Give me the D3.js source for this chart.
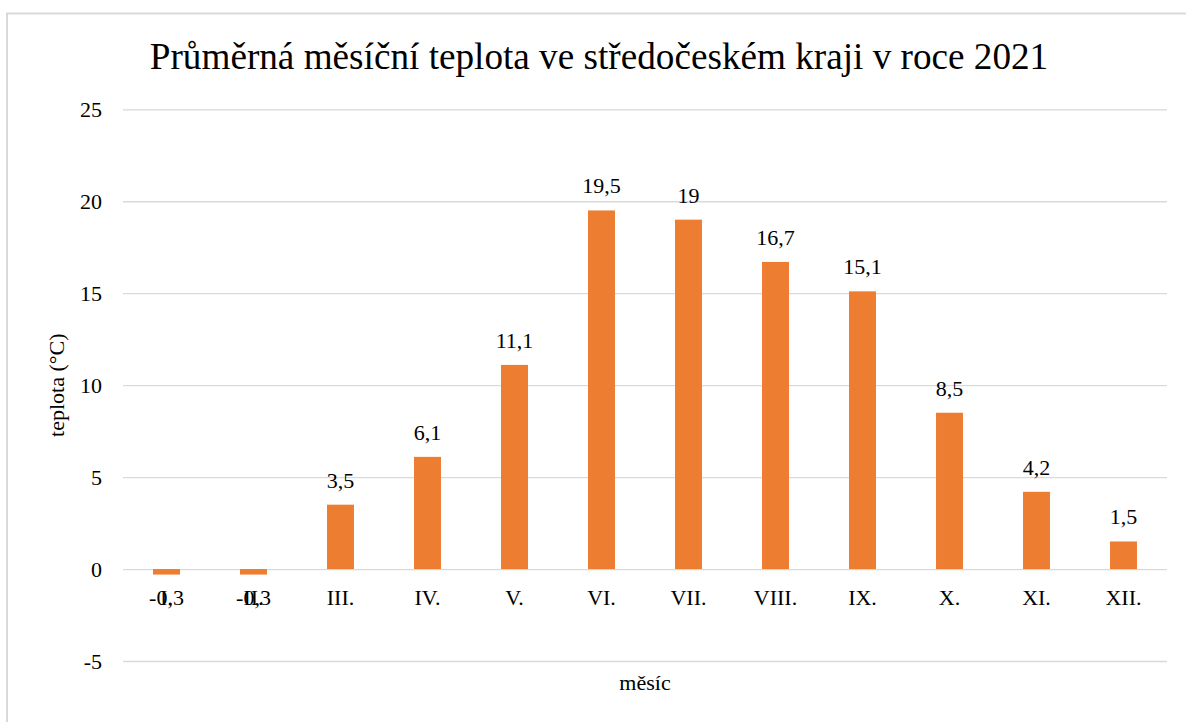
<!DOCTYPE html>
<html>
<head>
<meta charset="utf-8">
<script src="https://cdn.jsdelivr.net/npm/d3@7"></script>
<style>
  body { margin: 0; background: #fff; }
  svg, svg text { font-family: "Liberation Serif", "Times New Roman", serif; }
</style>
</head>
<body>
<div id="wrapper"></div>
<script>
// data
var months = ["I.", "II.", "III.", "IV.", "V.", "VI.", "VII.", "VIII.", "IX.", "X.", "XI.", "XII."];
var temps = [-0.3, -0.3, 3.5, 6.1, 11.1, 19.5, 19, 16.7, 15.1, 8.5, 4.2, 1.5];
var yTicks = [-5, 0, 5, 10, 15, 20, 25];
var title = "Průměrná měsíční teplota ve středočeském kraji v roce 2021";
var yTitle = "teplota (°C)";
var xTitle = "měsíc";

var W = 1186, H = 722;
var margin = {top: 109.3, right: 19, bottom: 61, left: 123};
var width = W - margin.left - margin.right,
    height = H - margin.top - margin.bottom;

var svg = d3.select("#wrapper").append("svg")
  .attr("width", W)
  .attr("height", H);

// chart area border (clipped by the page on the right and bottom)
svg.append("rect")
  .attr("x", 7).attr("y", 13.5)
  .attr("width", W + 20).attr("height", H + 20)
  .attr("fill", "none")
  .attr("stroke", "#d9d9d9")
  .attr("stroke-width", 2);

var g = svg.append("g")
  .attr("transform", "translate(" + margin.left + "," + margin.top + ")");

var x = d3.scaleBand()
  .domain(months)
  .range([0, width])
  .paddingInner(0.69)
  .paddingOuter(0.345);

var y = d3.scaleLinear()
  .domain([-5, 25])
  .range([height, 0]);

var fmt = function(d) { return String(d).replace(".", ","); };

// gridlines + tick labels
var yAxis = d3.axisLeft(y)
  .tickValues(yTicks)
  .tickSize(-width)
  .tickPadding(21)
  .tickFormat(fmt);

g.append("g")
  .call(yAxis)
  .attr("font-family", null)
  .attr("font-size", 22)
  .call(function(a) { a.select(".domain").remove(); })
  .call(function(a) {
    a.selectAll(".tick line").attr("stroke", "#d9d9d9").attr("stroke-width", 1.3);
    a.selectAll(".tick text").attr("fill", "#000");
  });

// bars
g.append("g").selectAll("rect")
  .data(temps)
  .enter().append("rect")
    .attr("x", function(d, i) { return x(months[i]); })
    .attr("y", function(d) { return y(Math.max(0, d)); })
    .attr("width", x.bandwidth())
    .attr("height", function(d) { return Math.abs(y(d) - y(0)); })
    .attr("fill", "#ed7d31");

// category labels (no axis line, Excel style)
g.append("g").selectAll("text")
  .data(months)
  .enter().append("text")
    .attr("x", function(d) { return x(d) + x.bandwidth() / 2; })
    .attr("y", y(0) + 36)
    .attr("text-anchor", "middle")
    .attr("font-size", 22)
    .text(function(d) { return d; });

// value labels
g.append("g").selectAll("text")
  .data(temps)
  .enter().append("text")
    .attr("x", function(d, i) { return x(months[i]) + x.bandwidth() / 2; })
    .attr("y", function(d) { return d >= 0 ? y(d) - 17 : y(d) + 30; })
    .attr("text-anchor", "middle")
    .attr("font-size", 22)
    .text(fmt);

// titles
svg.append("text")
  .attr("x", 599)
  .attr("y", 69)
  .attr("text-anchor", "middle")
  .attr("font-size", 37.2)
  .text(title);

svg.append("text")
  .attr("transform", "translate(64," + (margin.top + height / 2) + ") rotate(-90)")
  .attr("text-anchor", "middle")
  .attr("font-size", 22)
  .text(yTitle);

svg.append("text")
  .attr("x", margin.left + width / 2)
  .attr("y", 690)
  .attr("text-anchor", "middle")
  .attr("font-size", 22)
  .text(xTitle);
</script>
</body>
</html>
